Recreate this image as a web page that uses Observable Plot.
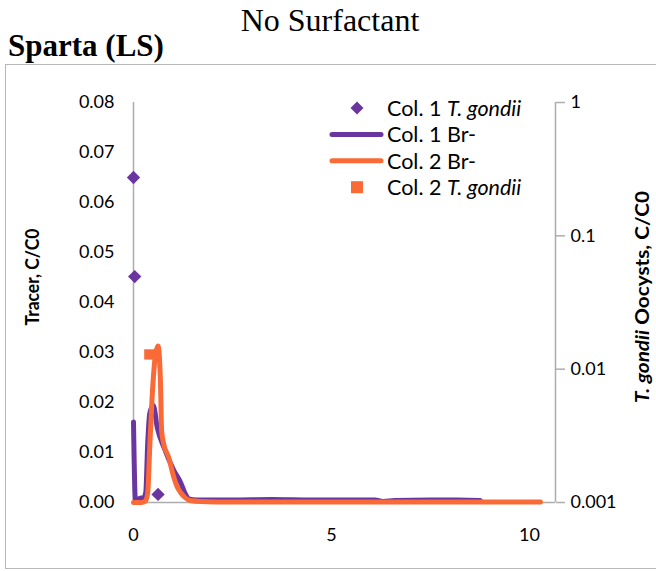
<!DOCTYPE html>
<html><head><meta charset="utf-8">
<script src="https://cdn.jsdelivr.net/npm/d3@7"></script>
<script src="https://cdn.jsdelivr.net/npm/@observablehq/plot@0.6"></script>
<style>
body{margin:0;background:#fff;}
#wrap{position:relative;width:656px;height:571px;overflow:hidden;font-family:Lato,"Liberation Sans",sans-serif;}
.abs{position:absolute;}
#box{position:absolute;left:5px;top:64px;width:700px;height:503px;border:1.5px solid #B8B8B8;}
</style></head>
<body><div id="wrap">
<div id="box"></div>
<div id="chart" class="abs" style="left:0;top:65px;"></div>
<svg id="over" class="abs" style="left:0;top:0;" width="656" height="571"></svg>
</div>
<script>
// Col. 1 Br- (tracer, left axis)
const col1BrX = [0, 0.05, 0.15, 0.26, 0.31, 0.36, 0.41, 0.5, 0.6, 0.77, 1.02, 1.19, 1.31, 1.4, 1.6, 2.5, 3.5, 4.5, 5.5, 6.1, 6.3, 6.6, 7.5, 8.2, 8.76];
const col1BrY = [0.0161, 0.0003, 0.0008, 0.001, 0.002, 0.012, 0.0178, 0.0194, 0.015, 0.011, 0.0064, 0.004, 0.0017, 0.0007, 0.0005, 0.0005, 0.0006, 0.0005, 0.0005, 0.0005, 0.0002, 0.0004, 0.0005, 0.0005, 0.0004];
// Col. 2 Br- (tracer, left axis)
const col2BrX = [0, 0.1, 0.2, 0.3, 0.36, 0.41, 0.47, 0.56, 0.62, 0.68, 0.71, 0.76, 0.89, 1.02, 1.1, 1.19, 1.3, 1.43, 1.7, 2.5, 4, 6, 8, 10.28];
const col2BrY = [0, 0, 0, 0.0003, 0.002, 0.011, 0.021, 0.0298, 0.0313, 0.0244, 0.0144, 0.0118, 0.009, 0.005, 0.0032, 0.002, 0.001, 0.0004, 0.0002, 0.0001, 0.0001, 0.0001, 0.0001, 0.0001];
// T. gondii oocysts (right log axis)
const col1TgX = [0, 0.03, 0.62];
const col1TgY = [0.274, 0.0495, 0.00115];
const col2TgX = [0.4];
const col2TgY = [0.0129];
// axes
const leftTicks = [0, 0.01, 0.02, 0.03, 0.04, 0.05, 0.06, 0.07, 0.08];
const rightTicks = [0.001, 0.01, 0.1, 1];
const xTicks = [0, 5, 10];
const seriesNames = ["Col. 1 T. gondii", "Col. 1 Br-", "Col. 2 Br-", "Col. 2 T. gondii"];
const titleText = "No Surfactant";
const subtitleText = "Sparta (LS)";
const yLabelLeft = "Tracer, C/C0";
const yLabelRight = ["T. gondii", " Oocysts, C/C0"];

const PURPLE = "#6B359F", ORANGE = "#F96A36", GRAY = "#ADADAD";
const yMax = 0.08, xMax = 10.66;
const toLeft = v => yMax * (Math.log10(v) + 3) / 3;

const line1 = col1BrX.map((x, i) => ({x, y: col1BrY[i]}));
const line2 = col2BrX.map((x, i) => ({x, y: col2BrY[i]}));
const tg1 = col1TgX.map((x, i) => ({x, y: toLeft(col1TgY[i])}));
const tg2 = col2TgX.map((x, i) => ({x, y: toLeft(col2TgY[i])}));

const chart = Plot.plot({
  width: 656, height: 506,
  marginLeft: 133, marginRight: 101, marginTop: 37, marginBottom: 69,
  style: {fontFamily: "Lato, 'Liberation Sans', sans-serif", fontSize: "18px", color: "#000", background: "transparent"},
  x: {domain: [0, xMax]},
  y: {domain: [0, yMax]},
  marks: [
    Plot.ruleX([0], {y1: 0, y2: yMax, stroke: GRAY, strokeWidth: 1.5}),
    Plot.ruleY([0], {x1: 0, x2: xMax, stroke: GRAY, strokeWidth: 1.5}),
    Plot.ruleX([xMax], {y1: 0, y2: yMax, stroke: GRAY, strokeWidth: 1.5}),
    Plot.axisY({anchor: "left", ticks: leftTicks, tickFormat: d3.format(".2f"), tickSize: 0, tickPadding: 19, label: null, fontSize: 18}),
    Plot.axisY({anchor: "right", ticks: rightTicks.map(toLeft), tickFormat: (d, i) => String(rightTicks[i]), tickSize: 9, tickPadding: 6, stroke: GRAY, strokeWidth: 1.5, strokeOpacity: 1, label: null, fontSize: 18}),
    Plot.axisX({ticks: xTicks, tickSize: 0, tickPadding: 26, label: null, fontSize: 18}),
    Plot.line(line1, {x: "x", y: "y", stroke: PURPLE, strokeWidth: 5, curve: "monotone-x", strokeLinecap: "round", strokeLinejoin: "round"}),
    Plot.line(line2, {x: "x", y: "y", stroke: ORANGE, strokeWidth: 5, curve: "monotone-x", strokeLinecap: "round", strokeLinejoin: "round"}),
    Plot.dot(tg2, {x: "x", y: "y", symbol: "square", r: 5.8, fill: ORANGE, stroke: "none"}),
    Plot.dot(tg1, {x: "x", y: "y", symbol: "diamond2", r: 6, fill: PURPLE, stroke: "none"})
  ]
});
document.getElementById("chart").appendChild(chart);

// overlay texts & legend
const over = d3.select("#over");
over.append("text").attr("x", 330).attr("y", 31).attr("text-anchor", "middle")
  .style("font-family", "'Liberation Serif', serif").style("font-size", "32px").text(titleText);
over.append("text").attr("x", 8).attr("y", 56)
  .style("font-family", "'Liberation Serif', serif").style("font-size", "31px").style("font-weight", "bold").text(subtitleText);
over.append("text").attr("transform", "translate(39,277) rotate(-90)").attr("text-anchor", "middle")
  .attr("textLength", 97).attr("lengthAdjust", "spacingAndGlyphs")
  .style("font-size", "18px").style("font-weight", "bold").text(yLabelLeft);
const rl = over.append("text").attr("transform", "translate(649,297) rotate(-90)").attr("text-anchor", "middle")
  .attr("textLength", 212).attr("lengthAdjust", "spacingAndGlyphs")
  .style("font-size", "18px").style("font-weight", "bold");
rl.append("tspan").style("font-style", "italic").text(yLabelRight[0]);
rl.append("tspan").text(yLabelRight[1]);

const legItems = [
  {name: seriesNames[0], kind: "diamond", color: PURPLE},
  {name: seriesNames[1], kind: "line", color: PURPLE},
  {name: seriesNames[2], kind: "line", color: ORANGE},
  {name: seriesNames[3], kind: "square", color: ORANGE}
];
legItems.forEach((it, i) => {
  const cy = 108 + i * 26.4;
  const g = over.append("g").attr("transform", `translate(0,${cy})`);
  if (it.kind === "line") {
    g.append("line").attr("x1", 332).attr("x2", 381).attr("y1", 0).attr("y2", 0)
      .attr("stroke", it.color).attr("stroke-width", 5).attr("stroke-linecap", "round");
  } else if (it.kind === "diamond") {
    g.append("path").attr("d", "M357,-6.5L363.5,0L357,6.5L350.5,0Z").attr("fill", it.color);
  } else {
    g.append("rect").attr("x", 351).attr("y", -6).attr("width", 12).attr("height", 12).attr("fill", it.color);
  }
  const t = g.append("text").attr("x", 387).attr("y", 0).attr("dy", "0.36em").style("font-size", "21.5px");
  const m = it.name.match(/^(Col\. \d )(T\. gondii)$/);
  if (m) { t.append("tspan").text(m[1]); t.append("tspan").style("font-style", "italic").text(m[2]); }
  else t.text(it.name);
});
</script>
</body></html>
